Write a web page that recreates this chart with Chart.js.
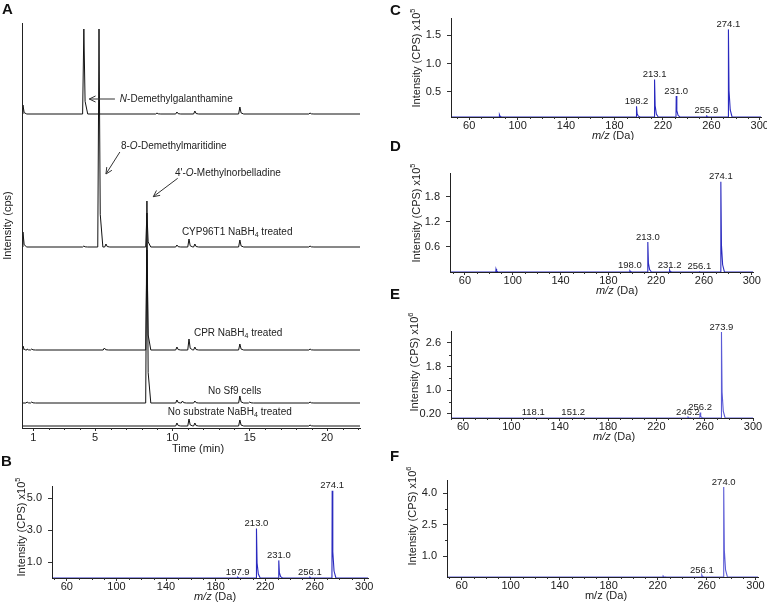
<!DOCTYPE html>
<html>
<head>
<meta charset="utf-8">
<script src="https://cdn.jsdelivr.net/npm/chart.js@4.4.1/dist/chart.umd.min.js"></script>
<style>
  body { margin: 0; background: #fff; }
  #page { position: relative; width: 767px; height: 606px; overflow: hidden; background: #fff; }
  canvas { position: absolute; }
  .tag { position: absolute; z-index: 2; font: bold 15px/15px "Liberation Sans", Arial, sans-serif; color: #111; }
</style>
</head>
<body>
<div id="page">
  <canvas id="chartA" width="390" height="456" style="left:0;top:0"></canvas>
  <canvas id="chartB" width="385" height="136" style="left:0;top:470px"></canvas>
  <canvas id="chartC" width="372" height="140" style="left:395px;top:0"></canvas>
  <canvas id="chartD" width="372" height="150" style="left:395px;top:150px"></canvas>
  <canvas id="chartE" width="372" height="145" style="left:395px;top:305px"></canvas>
  <canvas id="chartF" width="372" height="151" style="left:395px;top:455px"></canvas>
  <div class="tag" style="left:2px;top:1px">A</div>
  <div class="tag" style="left:1px;top:453px">B</div>
  <div class="tag" style="left:390px;top:2px">C</div>
  <div class="tag" style="left:390px;top:138px">D</div>
  <div class="tag" style="left:390px;top:286px">E</div>
  <div class="tag" style="left:390px;top:448px">F</div>
</div>
<script>
// ---- A: LC traces (retention time in min, peak height in stacked units) ----
const timeTicks = [1, 5, 10, 15, 20];
const traceOffsets = [314, 181, 78, 25, 2];

const stdT = [0.33, 4.27, 9.0, 10.29, 11.45, 14.36, 18.9];
const stdH = [9, 85, 1, 2, 3, 7, 1];
const cypT = [0.33, 4.27, 5.25, 5.7, 8.35, 10.29, 11.07, 11.45, 14.36, 18.9];
const cypH = [15, 1, 218, 3, 34, 2, 8, 3, 7, 1];
const cprT = [0.33, 0.6, 0.9, 5.6, 8.35, 10.29, 11.07, 11.45, 14.36, 18.9];
const cprH = [4, 1, 1, 2, 100, 3, 11, 3, 6, 1];
const sf9T = [0.6, 0.9, 8.35, 10.29, 10.65, 11.45, 14.36, 15.0, 18.9];
const sf9H = [1, 1, 202, 3, 2, 2, 7, 1, 1];
const noSubT = [10.29, 11.07, 11.45, 14.36, 18.9];
const noSubH = [3, 7, 3, 6, 1];

// ---- B-F: MS spectra ----
const mzTicks = [60, 100, 140, 180, 220, 260, 300];

const mzB = [197.9, 213.0, 231.0, 256.1, 274.1];
const intB = [0.05, 3.1, 1.1, 0.05, 5.45];
const labB = ['197.9', '213.0', '231.0', '256.1', '274.1'];
const yTicksB = [1.0, 3.0, 5.0];
const yLabB = ['1.0', '3.0', '5.0'];

const mzC = [85, 198.2, 213.1, 231.0, 255.9, 274.1];
const intC = [0.1, 0.25, 0.72, 0.43, 0.09, 1.6];
const labC = ['', '198.2', '213.1', '231.0', '255.9', '274.1'];
const yTicksC = [0.5, 1.0, 1.5];
const yLabC = ['0.5', '1.0', '1.5'];

const mzD = [86, 198.0, 213.0, 231.2, 256.1, 274.1];
const intD = [0.07, 0.03, 0.72, 0.05, 0.02, 2.16];
const labD = ['', '198.0', '213.0', '231.2', '256.1', '274.1'];
const yTicksD = [0.6, 1.2, 1.8];
const yLabD = ['0.6', '1.2', '1.8'];

const mzE = [118.1, 151.2, 246.2, 256.2, 273.9];
const intE = [0.08, 0.08, 0.1, 0.25, 2.97];
const labE = ['118.1', '151.2', '246.2', '256.2', '273.9'];
const yTicksE = [0.2, 1.0, 1.8, 2.6];
const yLabE = ['0.20', '1.0', '1.8', '2.6'];
const yMinorE = [0.6, 1.4, 2.2];

const mzF = [224.5, 256.1, 274.0];
const intF = [0.05, 0.1, 4.3];
const labF = ['', '256.1', '274.0'];
const yTicksF = [1.0, 2.5, 4.0];
const yLabF = ['1.0', '2.5', '4.0'];
const yMinorF = [1.75, 3.25];

const FONT = '"Liberation Sans", Arial, Helvetica, sans-serif';
Chart.defaults.font.family = FONT;
Chart.defaults.color = '#222';

// one chromatogram line: baseline plus sharp tailing peaks
function tracePoints(times, heights, off, lo, hi) {
  const pts = [{x: lo, y: off}, {x: hi, y: off}];
  times.forEach((t, i) => {
    const h = heights[i];
    pts.push({x: t - 0.08, y: off}, {x: t, y: off + h}, {x: t + 0.08, y: off + h * 0.15}, {x: t + 0.25, y: off});
  });
  return pts.sort((a, b) => a.x - b.x);
}

// one spectrum line: peaks sitting on the baseline
function peakPoints(mz, inten, base, lo, hi) {
  const pts = [{x: lo, y: base}];
  mz.forEach((m, i) => {
    const d = inten[i] - base;
    pts.push({x: m - 0.2, y: base}, {x: m, y: inten[i]}, {x: m + 0.5, y: base + d * 0.3},
      {x: m + 1.5, y: base + d * 0.08}, {x: m + 3, y: base});
  });
  pts.push({x: hi, y: base});
  return pts;
}

function drawParts(ctx, parts, x, y, size) {
  parts.forEach(([txt, style]) => {
    if (style === 's') {
      ctx.font = `${size * 0.7}px ${FONT}`;
      ctx.fillText(txt, x, y + 3);
    } else {
      ctx.font = `${style === 'i' ? 'italic ' : ''}${size}px ${FONT}`;
      ctx.fillText(txt, x, y);
    }
    x += ctx.measureText(txt).width;
  });
}

function arrow(ctx, x1, y1, x2, y2) {
  const ang = Math.atan2(y2 - y1, x2 - x1), L = 7, sp = 0.45;
  ctx.beginPath();
  ctx.moveTo(x1, y1); ctx.lineTo(x2, y2);
  ctx.moveTo(x2 - L * Math.cos(ang - sp), y2 - L * Math.sin(ang - sp));
  ctx.lineTo(x2, y2);
  ctx.lineTo(x2 - L * Math.cos(ang + sp), y2 - L * Math.sin(ang + sp));
  ctx.stroke();
}

// ---------------- panel A ----------------
const annotA = [
  {t: 6.6, y: 329, parts: [['N', 'i'], ['-Demethylgalanthamine', '']], arrow: [6.28, 329, 4.62, 329]},
  {t: 6.67, y: 282, parts: [['8-', ''], ['O', 'i'], ['-Demethylmaritidine', '']], arrow: [6.6, 276, 5.7, 254]},
  {t: 10.16, y: 255, parts: [["4'-", ''], ['O', 'i'], ['-Methylnorbelladine', '']], arrow: [10.34, 249.7, 8.76, 231.3]},
  {t: 10.61, y: 196, parts: [['CYP96T1 NaBH', ''], ['4', 's'], [' treated', '']]},
  {t: 11.39, y: 95, parts: [['CPR NaBH', ''], ['4', 's'], [' treated', '']]},
  {t: 12.3, y: 37, parts: [['No Sf9 cells', '']]},
  {t: 9.7, y: 16, parts: [['No substrate NaBH', ''], ['4', 's'], [' treated', '']]}
];

const decorA = {
  id: 'decorA',
  afterDraw(chart) {
    const {ctx, chartArea: a, scales: {x, y}} = chart;
    ctx.save();
    ctx.strokeStyle = '#333';
    ctx.lineWidth = 1;
    ctx.beginPath();
    for (let v = 1; v <= 22; v++) {
      if (timeTicks.includes(v)) continue;
      const px = Math.round(x.getPixelForValue(v)) + 0.5;
      ctx.moveTo(px, a.bottom); ctx.lineTo(px, a.bottom + 2);
    }
    ctx.stroke();
    ctx.fillStyle = '#222';
    ctx.textBaseline = 'middle';
    ctx.textAlign = 'left';
    annotA.forEach(n => {
      drawParts(ctx, n.parts, x.getPixelForValue(n.t), y.getPixelForValue(n.y), 10);
      if (n.arrow) {
        const [t1, y1, t2, y2] = n.arrow;
        arrow(ctx, x.getPixelForValue(t1), y.getPixelForValue(y1), x.getPixelForValue(t2), y.getPixelForValue(y2));
      }
    });
    ctx.textAlign = 'center';
    ctx.font = `11px ${FONT}`;
    ctx.fillText('Time (min)', 198, a.bottom + 21);
    ctx.restore();
  }
};

const traces = [[stdT, stdH], [cypT, cypH], [cprT, cprH], [sf9T, sf9H], [noSubT, noSubH]];

new Chart(document.getElementById('chartA'), {
  type: 'line',
  data: {
    datasets: traces.map(([t, h], i) => ({
      data: tracePoints(t, h, traceOffsets[i], 0.27, 22.13),
      borderColor: '#111', borderWidth: 1, pointRadius: 0, tension: 0
    }))
  },
  options: {
    responsive: false, animation: false, devicePixelRatio: 1,
    layout: {padding: {top: 23, right: 30, left: 0, bottom: 0}},
    plugins: {legend: {display: false}, tooltip: {enabled: false}},
    scales: {
      x: {
        type: 'linear', min: 0.27, max: 22.13,
        afterBuildTicks: s => { s.ticks = timeTicks.map(v => ({value: v})); },
        afterFit: s => { s.height = 28; s.paddingLeft = 0; s.paddingRight = 0; },
        ticks: {autoSkip: false, maxRotation: 0, padding: 0, font: {size: 11}, callback: v => String(v)},
        grid: {drawOnChartArea: false, tickLength: 3, color: '#333', z: 1},
        border: {color: '#222', width: 1, z: 1}
      },
      y: {
        min: 0, max: 405,
        afterFit: s => { s.width = 22; s.paddingTop = 0; s.paddingBottom = 0; },
        ticks: {display: false},
        grid: {display: false},
        border: {color: '#222', width: 1, z: 1},
        title: {display: true, text: 'Intensity (cps)', font: {size: 11}, padding: {top: 1, bottom: 0}}
      }
    }
  },
  plugins: [decorA]
});

// ---------------- panels B-F ----------------
const msDecor = {
  id: 'msDecor',
  afterDraw(chart, args, o) {
    const {ctx, chartArea: a, scales: {x, y}} = chart;
    ctx.save();
    ctx.strokeStyle = '#333';
    ctx.lineWidth = 1;
    ctx.beginPath();
    for (let v = 50; v <= 300; v += 10) {
      if (mzTicks.includes(v) || v < x.min || v > x.max) continue;
      const px = Math.round(x.getPixelForValue(v)) + 0.5;
      ctx.moveTo(px, a.bottom); ctx.lineTo(px, a.bottom + 2);
    }
    (o.yMinor || []).forEach(v => {
      const py = Math.round(y.getPixelForValue(v)) + 0.5;
      ctx.moveTo(a.left - 2, py); ctx.lineTo(a.left, py);
    });
    ctx.stroke();

    ctx.fillStyle = '#222';
    ctx.textAlign = 'center';
    ctx.textBaseline = 'middle';
    ctx.font = `9.5px ${FONT}`;
    o.mz.forEach((m, i) => {
      if (!o.labels[i]) return;
      ctx.fillText(o.labels[i], x.getPixelForValue(m), y.getPixelForValue(o.inten[i]) - 5);
    });

    // x title: m/z (Da)
    const mzPart = o.italic ? 'italic ' : '';
    ctx.font = `${mzPart}11px ${FONT}`;
    const w1 = ctx.measureText('m/z').width;
    ctx.font = `11px ${FONT}`;
    const w2 = ctx.measureText(' (Da)').width;
    const tx = o.xtx - o.box.x - (w1 + w2) / 2;
    const ty = a.bottom + 19;
    ctx.textAlign = 'left';
    ctx.font = `${mzPart}11px ${FONT}`;
    ctx.fillText('m/z', tx, ty);
    ctx.font = `11px ${FONT}`;
    ctx.fillText(' (Da)', tx + w1, ty);

    // y title: Intensity (CPS) x10^n
    ctx.translate(o.ytx - o.box.x, o.yty - o.box.y);
    ctx.rotate(-Math.PI / 2);
    ctx.font = `11px ${FONT}`;
    const main = 'Intensity (CPS) x10';
    const wm = ctx.measureText(main).width;
    ctx.font = `7.5px ${FONT}`;
    const ws = ctx.measureText(o.exp).width;
    const sx = -(wm + ws) / 2;
    ctx.font = `11px ${FONT}`;
    ctx.fillText(main, sx, 0);
    ctx.font = `7.5px ${FONT}`;
    ctx.fillText(o.exp, sx + wm, -4);
    ctx.restore();
  }
};

function msChart(id, p) {
  const {box, area} = p;
  new Chart(document.getElementById(id), {
    type: 'line',
    data: {
      datasets: [{
        data: peakPoints(p.mz, p.inten, p.yMin, p.xMin, p.xMax),
        borderColor: p.color, borderWidth: 1.1, pointRadius: 0, tension: 0
      }]
    },
    options: {
      responsive: false, animation: false, devicePixelRatio: 1,
      layout: {padding: {top: area.t - box.y, right: box.x + box.w - area.r, left: 0, bottom: 0}},
      plugins: {
        legend: {display: false}, tooltip: {enabled: false},
        msDecor: p
      },
      scales: {
        x: {
          type: 'linear', min: p.xMin, max: p.xMax,
          afterBuildTicks: s => { s.ticks = mzTicks.map(v => ({value: v})); },
          afterFit: s => { s.height = box.y + box.h - area.b; s.paddingLeft = 0; s.paddingRight = 0; },
          ticks: {autoSkip: false, maxRotation: 0, padding: -1, font: {size: 11}, callback: v => String(v)},
          grid: {drawOnChartArea: false, tickLength: 3, color: '#333', z: 1},
          border: {color: '#222', width: 1, z: 1}
        },
        y: {
          min: p.yMin, max: p.yMax,
          afterBuildTicks: s => { s.ticks = p.yTicks.map(v => ({value: v})); },
          afterFit: s => { s.width = area.l - box.x; s.paddingTop = 0; s.paddingBottom = 0; },
          ticks: {padding: 6, font: {size: 11}, callback: v => p.yLab[p.yTicks.indexOf(v)]},
          grid: {drawOnChartArea: false, tickLength: 4, color: '#333', z: 1},
          border: {color: '#222', width: 1, z: 1}
        }
      }
    },
    plugins: [msDecor]
  });
}

const dark = '#2a2abf', light = '#5b5bd6';

msChart('chartB', {
  box: {x: 0, y: 470, w: 385, h: 136}, area: {l: 52, t: 486, r: 368, b: 578},
  xMin: 48, xMax: 303, yMin: 0, yMax: 5.75,
  mz: mzB, inten: intB, labels: labB, yTicks: yTicksB, yLab: yLabB,
  exp: '5', color: dark, italic: true, xtx: 215, ytx: 22, yty: 527
});
msChart('chartC', {
  box: {x: 395, y: 0, w: 372, h: 140}, area: {l: 451, t: 18, r: 761, b: 117},
  xMin: 45, xMax: 301, yMin: 0.06, yMax: 1.8,
  mz: mzC, inten: intC, labels: labC, yTicks: yTicksC, yLab: yLabC,
  exp: '5', color: dark, italic: true, xtx: 613, ytx: 417, yty: 58
});
msChart('chartD', {
  box: {x: 395, y: 150, w: 372, h: 150}, area: {l: 450, t: 173, r: 753, b: 272},
  xMin: 47.5, xMax: 301, yMin: 0, yMax: 2.37,
  mz: mzD, inten: intD, labels: labD, yTicks: yTicksD, yLab: yLabD,
  exp: '5', color: dark, italic: true, xtx: 617, ytx: 417, yty: 213
});
msChart('chartE', {
  box: {x: 395, y: 305, w: 372, h: 145}, area: {l: 451, t: 331, r: 753, b: 418},
  xMin: 50, xMax: 300, yMin: 0.065, yMax: 3.0,
  mz: mzE, inten: intE, labels: labE, yTicks: yTicksE, yLab: yLabE, yMinor: yMinorE,
  exp: '6', color: light, italic: true, xtx: 614, ytx: 415, yty: 362
});
msChart('chartF', {
  box: {x: 395, y: 455, w: 372, h: 151}, area: {l: 447, t: 480, r: 758, b: 577},
  xMin: 48, xMax: 302, yMin: 0, yMax: 4.63,
  mz: mzF, inten: intF, labels: labF, yTicks: yTicksF, yLab: yLabF, yMinor: yMinorF,
  exp: '6', color: light, italic: false, xtx: 606, ytx: 413, yty: 516
});
</script>
</body>
</html>
